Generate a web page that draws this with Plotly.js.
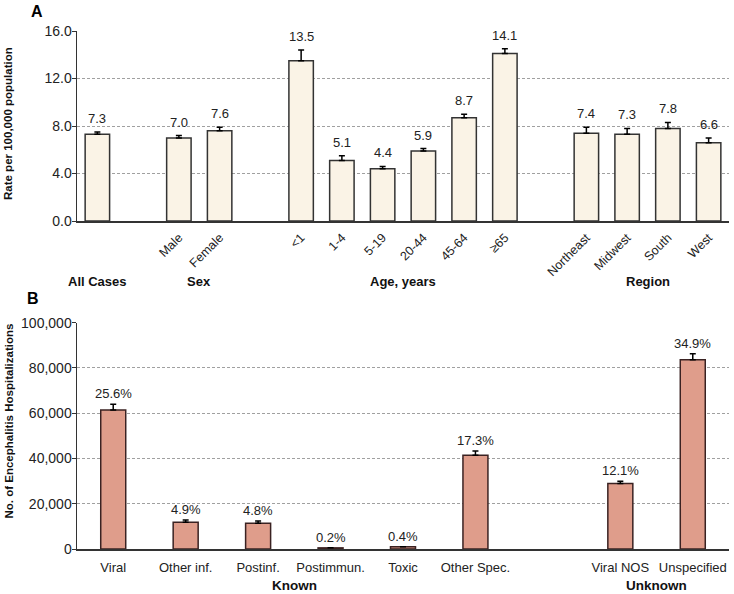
<!DOCTYPE html>
<html>
<head>
<meta charset="utf-8">
<script src="https://cdn.plot.ly/plotly-3.0.1.min.js"></script>
<style>html,body{margin:0;padding:0;background:#fff;}#chart{width:734px;height:594px;}</style>
</head>
<body>
<div id="chart"></div>
<script>
// ---------- Panel A data ----------
const catsA = ["All Cases","Male","Female","<1","1-4","5-19","20-44","45-64","≥65","Northeast","Midwest","South","West"];
const valsA = [7.3, 7.0, 7.6, 13.5, 5.1, 4.4, 5.9, 8.7, 14.1, 7.4, 7.3, 7.8, 6.6];
const errA  = [0.2, 0.2, 0.3, 0.9, 0.4, 0.2, 0.2, 0.3, 0.4, 0.5, 0.5, 0.5, 0.4];
const labelsA = ["7.3","7.0","7.6","13.5","5.1","4.4","5.9","8.7","14.1","7.4","7.3","7.8","6.6"];
const groupsA = [
  {name: "All Cases", members: ["All Cases"]},
  {name: "Sex", members: ["Male","Female"]},
  {name: "Age, years", members: ["<1","1-4","5-19","20-44","45-64","≥65"]},
  {name: "Region", members: ["Northeast","Midwest","South","West"]}
];
const yTicksA = [0, 4, 8, 12, 16];
const yTitleA = "Rate per 100,000 population";

// ---------- Panel B data ----------
const catsB = ["Viral","Other inf.","Postinf.","Postimmun.","Toxic","Other Spec.","Viral NOS","Unspecified"];
const valsB = [61400, 11800, 11400, 500, 1000, 41400, 28900, 83600];
const errB  = [2600, 1000, 1000, 0, 0, 1900, 1000, 2700];
const labelsB = ["25.6%","4.9%","4.8%","0.2%","0.4%","17.3%","12.1%","34.9%"];
const groupsB = [
  {name: "Known", members: ["Viral","Other inf.","Postinf.","Postimmun.","Toxic","Other Spec."]},
  {name: "Unknown", members: ["Viral NOS","Unspecified"]}
];
const yTicksB = [0, 20000, 40000, 60000, 80000, 100000];
const yTitleB = "No. of Encephalitis Hospitalizations";

// build category order with blank spacer slots between groups
function buildOrder(groups) {
  const order = [];
  groups.forEach((g, i) => {
    if (i > 0) order.push("__gap" + i);
    g.members.forEach(m => order.push(m));
  });
  return order;
}
const orderA = buildOrder(groupsA);
const orderB = buildOrder(groupsB);

const FONT = "Liberation Sans, Arial, sans-serif";
const W = 734, H = 594;
const px = v => v / W;
const py = v => 1 - v / H;

const traces = [
  {
    type: "bar", x: catsA, y: valsA, xaxis: "x", yaxis: "y",
    width: 0.6,
    marker: {color: "#FAF3E6", line: {color: "#333333", width: 1.5}},
    error_y: {type: "data", symmetric: false, array: errA, arrayminus: errA.map(() => 0),
              color: "#000000", thickness: 1.5, width: 3},
    hoverinfo: "x+y", showlegend: false
  },
  {
    type: "bar", x: catsB, y: valsB, xaxis: "x2", yaxis: "y2",
    width: 0.345,
    marker: {color: "#DF9D8B", line: {color: "#3A2222", width: 1.5}},
    error_y: {type: "data", symmetric: false, array: errB, arrayminus: errB.map(() => 0),
              color: "#000000", thickness: 1.5, width: 3},
    hoverinfo: "x+y", showlegend: false
  }
];

const annotations = [];
catsA.forEach((c, i) => annotations.push({
  x: c, y: valsA[i] + errA[i], xref: "x", yref: "y", text: labelsA[i],
  showarrow: false, xanchor: "center", yanchor: "bottom", yshift: 4,
  font: {family: FONT, size: 13, color: "#222"}
}));
catsB.forEach((c, i) => annotations.push({
  x: c, y: valsB[i] + errB[i], xref: "x2", yref: "y2", text: labelsB[i],
  showarrow: false, xanchor: "center", yanchor: "bottom", yshift: 1,
  font: {family: FONT, size: 13, color: "#222"}
}));
function groupLabels(groups, order, xref, yPix, size) {
  groups.forEach(g => {
    const idx = g.members.map(m => order.indexOf(m));
    const mid = (Math.min(...idx) + Math.max(...idx)) / 2;
    annotations.push({
      x: mid, y: py(yPix), xref: xref, yref: "paper", text: "<b>" + g.name + "</b>",
      showarrow: false, xanchor: "center", yanchor: "middle",
      font: {family: FONT, size: size, color: "#111"}
    });
  });
}
groupLabels(groupsA, orderA, "x", 282, 13);
groupLabels(groupsB, orderB, "x2", 585, 13.5);
annotations.push({x: px(36.5), y: py(11.5), xref: "paper", yref: "paper", text: "<b>A</b>",
  showarrow: false, xanchor: "center", yanchor: "middle",
  font: {family: FONT, size: 16, color: "#000"}});
annotations.push({x: px(33), y: py(298.5), xref: "paper", yref: "paper", text: "<b>B</b>",
  showarrow: false, xanchor: "center", yanchor: "middle",
  font: {family: FONT, size: 16, color: "#000"}});
// y-axis titles
annotations.push({x: px(8), y: py(124), xref: "paper", yref: "paper", text: "<b>" + yTitleA + "</b>",
  textangle: -90, showarrow: false, xanchor: "center", yanchor: "middle",
  font: {family: FONT, size: 11.5, color: "#111"}});
annotations.push({x: px(8), y: py(421.5), xref: "paper", yref: "paper", text: "<b>" + yTitleB + "</b>",
  textangle: -90, showarrow: false, xanchor: "center", yanchor: "middle",
  font: {family: FONT, size: 11.5, color: "#111"}});

const xCommon = {
  type: "category", showgrid: false, zeroline: false, showline: true,
  linecolor: "#333333", linewidth: 1.5, ticks: "", tickmode: "array",
  automargin: false, fixedrange: true
};
const yCommon = {
  showgrid: true, gridcolor: "#a0a0a0", griddash: "3px,2px", gridwidth: 1,
  zeroline: false, showline: true, linecolor: "#333333", linewidth: 1.5,
  ticks: "outside", ticklen: 4, tickcolor: "#333333", tickmode: "array",
  ticklabelstandoff: -3,
  automargin: false, fixedrange: true,
  tickfont: {family: FONT, size: 14, color: "#222"}
};

const layout = {
  width: W, height: H,
  margin: {l: 0, r: 0, t: 0, b: 0},
  paper_bgcolor: "#ffffff", plot_bgcolor: "#ffffff",
  font: {family: FONT, color: "#222"},
  bargap: 0.4,
  xaxis: Object.assign({}, xCommon, {
    domain: [px(77), px(729)], anchor: "y",
    categoryorder: "array", categoryarray: orderA,
    range: [-0.5, orderA.length - 0.5],
    tickvals: catsA.slice(1), ticktext: catsA.slice(1),
    tickangle: -45, ticklabelstandoff: 3,
    tickfont: {family: FONT, size: 12.5, color: "#222"}
  }),
  yaxis: Object.assign({}, yCommon, {
    domain: [py(221), py(31)], anchor: "x",
    range: [0, 16], tickvals: yTicksA, ticktext: yTicksA.map(v => v.toFixed(1))
  }),
  xaxis2: Object.assign({}, xCommon, {
    domain: [px(77), px(729)], anchor: "y2",
    categoryorder: "array", categoryarray: orderB,
    range: [-0.5, orderB.length - 0.5],
    tickvals: catsB, ticktext: catsB,
    tickangle: 0, ticklabelstandoff: 6,
    tickfont: {family: FONT, size: 13, color: "#222"}
  }),
  yaxis2: Object.assign({}, yCommon, {
    domain: [py(549), py(322.7)], anchor: "x2",
    range: [0, 100000], tickvals: yTicksB, ticktext: yTicksB.map(v => v.toLocaleString("en-US"))
  }),
  annotations: annotations
};

Plotly.newPlot("chart", traces, layout, {displayModeBar: false, staticPlot: true});
</script>
</body>
</html>
